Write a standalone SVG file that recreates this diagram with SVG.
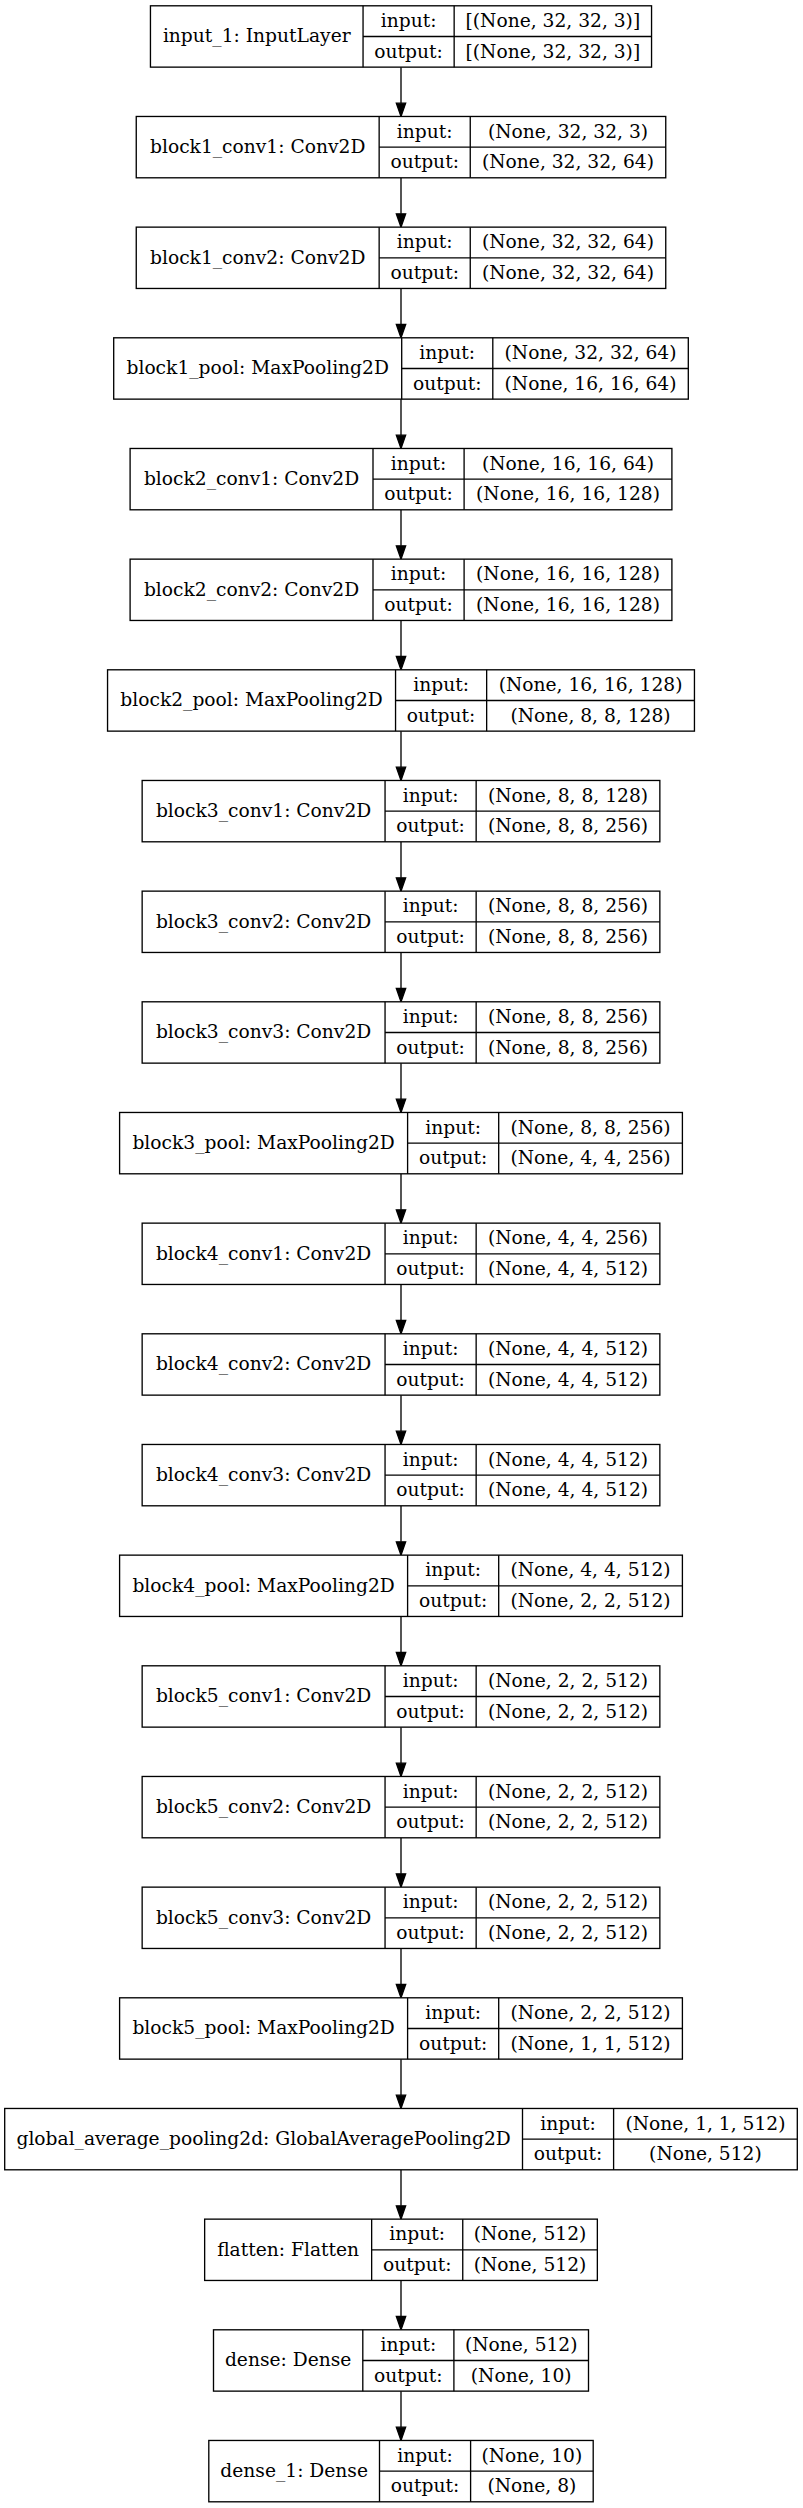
<svg xmlns="http://www.w3.org/2000/svg" width="803" height="2508" viewBox="0 0 803 2508">
<defs>
<style>
.node rect{fill:#ffffff;stroke:#000000;stroke-width:1.33}
.node line{stroke:#000000;stroke-width:1.33}
.node text{font-family:"DejaVu Serif","Liberation Serif",serif;font-size:18.67px;fill:#000000;text-anchor:middle}
.edge{fill:none;stroke:#000000;stroke-width:1.33}
</style>
<marker id="arrow" markerUnits="userSpaceOnUse" markerWidth="16" markerHeight="12" viewBox="-1 -6 16 12" refX="0" refY="0" orient="auto">
<path d="M0,-4.67 L13.33,0 L0,4.67 z" fill="#000000" stroke="#000000" stroke-width="1.33"/>
</marker>
</defs>
<rect x="0" y="0" width="803" height="2508" fill="#ffffff"/>
<g id="edges">
<path class="edge" marker-end="url(#arrow)" d="M401,67.13 V103.13"/>
<path class="edge" marker-end="url(#arrow)" d="M401,177.8 V213.8"/>
<path class="edge" marker-end="url(#arrow)" d="M401,288.47 V324.47"/>
<path class="edge" marker-end="url(#arrow)" d="M401,399.13 V435.13"/>
<path class="edge" marker-end="url(#arrow)" d="M401,509.8 V545.8"/>
<path class="edge" marker-end="url(#arrow)" d="M401,620.47 V656.47"/>
<path class="edge" marker-end="url(#arrow)" d="M401,731.13 V767.13"/>
<path class="edge" marker-end="url(#arrow)" d="M401,841.8 V877.8"/>
<path class="edge" marker-end="url(#arrow)" d="M401,952.47 V988.47"/>
<path class="edge" marker-end="url(#arrow)" d="M401,1063.13 V1099.13"/>
<path class="edge" marker-end="url(#arrow)" d="M401,1173.8 V1209.8"/>
<path class="edge" marker-end="url(#arrow)" d="M401,1284.47 V1320.47"/>
<path class="edge" marker-end="url(#arrow)" d="M401,1395.13 V1431.13"/>
<path class="edge" marker-end="url(#arrow)" d="M401,1505.8 V1541.8"/>
<path class="edge" marker-end="url(#arrow)" d="M401,1616.47 V1652.47"/>
<path class="edge" marker-end="url(#arrow)" d="M401,1727.13 V1763.13"/>
<path class="edge" marker-end="url(#arrow)" d="M401,1837.8 V1873.8"/>
<path class="edge" marker-end="url(#arrow)" d="M401,1948.47 V1984.47"/>
<path class="edge" marker-end="url(#arrow)" d="M401,2059.13 V2095.13"/>
<path class="edge" marker-end="url(#arrow)" d="M401,2169.8 V2205.8"/>
<path class="edge" marker-end="url(#arrow)" d="M401,2280.47 V2316.47"/>
<path class="edge" marker-end="url(#arrow)" d="M401,2391.13 V2427.13"/>
</g>

<g id="input_1" class="node" transform="translate(150.45,5.8)">
<rect x="0" y="0" width="501.1" height="61.33"/>
<line x1="212.6" y1="0" x2="212.6" y2="61.33"/><line x1="303.7" y1="0" x2="303.7" y2="61.33"/><line x1="212.6" y1="30.67" x2="501.1" y2="30.67"/>
<text x="106.3" y="36.67">input_1: InputLayer</text>
<text x="258.15" y="21.33">input:</text><text x="258.15" y="52">output:</text>
<text x="402.4" y="21.33">[(None, 32, 32, 3)]</text><text x="402.4" y="52">[(None, 32, 32, 3)]</text>
</g>

<g id="block1_conv1" class="node" transform="translate(136.25,116.47)">
<rect x="0" y="0" width="529.5" height="61.33"/>
<line x1="242.9" y1="0" x2="242.9" y2="61.33"/><line x1="334" y1="0" x2="334" y2="61.33"/><line x1="242.9" y1="30.67" x2="529.5" y2="30.67"/>
<text x="121.45" y="36.67">block1_conv1: Conv2D</text>
<text x="288.45" y="21.33">input:</text><text x="288.45" y="52">output:</text>
<text x="431.75" y="21.33">(None, 32, 32, 3)</text><text x="431.75" y="52">(None, 32, 32, 64)</text>
</g>

<g id="block1_conv2" class="node" transform="translate(136.25,227.13)">
<rect x="0" y="0" width="529.5" height="61.33"/>
<line x1="242.9" y1="0" x2="242.9" y2="61.33"/><line x1="334" y1="0" x2="334" y2="61.33"/><line x1="242.9" y1="30.67" x2="529.5" y2="30.67"/>
<text x="121.45" y="36.67">block1_conv2: Conv2D</text>
<text x="288.45" y="21.33">input:</text><text x="288.45" y="52">output:</text>
<text x="431.75" y="21.33">(None, 32, 32, 64)</text><text x="431.75" y="52">(None, 32, 32, 64)</text>
</g>

<g id="block1_pool" class="node" transform="translate(113.7,337.8)">
<rect x="0" y="0" width="574.6" height="61.33"/>
<line x1="288" y1="0" x2="288" y2="61.33"/><line x1="379.1" y1="0" x2="379.1" y2="61.33"/><line x1="288" y1="30.67" x2="574.6" y2="30.67"/>
<text x="144" y="36.67">block1_pool: MaxPooling2D</text>
<text x="333.55" y="21.33">input:</text><text x="333.55" y="52">output:</text>
<text x="476.85" y="21.33">(None, 32, 32, 64)</text><text x="476.85" y="52">(None, 16, 16, 64)</text>
</g>

<g id="block2_conv1" class="node" transform="translate(130.1,448.47)">
<rect x="0" y="0" width="541.8" height="61.33"/>
<line x1="242.9" y1="0" x2="242.9" y2="61.33"/><line x1="334" y1="0" x2="334" y2="61.33"/><line x1="242.9" y1="30.67" x2="541.8" y2="30.67"/>
<text x="121.45" y="36.67">block2_conv1: Conv2D</text>
<text x="288.45" y="21.33">input:</text><text x="288.45" y="52">output:</text>
<text x="437.9" y="21.33">(None, 16, 16, 64)</text><text x="437.9" y="52">(None, 16, 16, 128)</text>
</g>

<g id="block2_conv2" class="node" transform="translate(130.1,559.13)">
<rect x="0" y="0" width="541.8" height="61.33"/>
<line x1="242.9" y1="0" x2="242.9" y2="61.33"/><line x1="334" y1="0" x2="334" y2="61.33"/><line x1="242.9" y1="30.67" x2="541.8" y2="30.67"/>
<text x="121.45" y="36.67">block2_conv2: Conv2D</text>
<text x="288.45" y="21.33">input:</text><text x="288.45" y="52">output:</text>
<text x="437.9" y="21.33">(None, 16, 16, 128)</text><text x="437.9" y="52">(None, 16, 16, 128)</text>
</g>

<g id="block2_pool" class="node" transform="translate(107.55,669.8)">
<rect x="0" y="0" width="586.9" height="61.33"/>
<line x1="288" y1="0" x2="288" y2="61.33"/><line x1="379.1" y1="0" x2="379.1" y2="61.33"/><line x1="288" y1="30.67" x2="586.9" y2="30.67"/>
<text x="144" y="36.67">block2_pool: MaxPooling2D</text>
<text x="333.55" y="21.33">input:</text><text x="333.55" y="52">output:</text>
<text x="483" y="21.33">(None, 16, 16, 128)</text><text x="483" y="52">(None, 8, 8, 128)</text>
</g>

<g id="block3_conv1" class="node" transform="translate(142.15,780.47)">
<rect x="0" y="0" width="517.7" height="61.33"/>
<line x1="242.9" y1="0" x2="242.9" y2="61.33"/><line x1="334" y1="0" x2="334" y2="61.33"/><line x1="242.9" y1="30.67" x2="517.7" y2="30.67"/>
<text x="121.45" y="36.67">block3_conv1: Conv2D</text>
<text x="288.45" y="21.33">input:</text><text x="288.45" y="52">output:</text>
<text x="425.85" y="21.33">(None, 8, 8, 128)</text><text x="425.85" y="52">(None, 8, 8, 256)</text>
</g>

<g id="block3_conv2" class="node" transform="translate(142.15,891.13)">
<rect x="0" y="0" width="517.7" height="61.33"/>
<line x1="242.9" y1="0" x2="242.9" y2="61.33"/><line x1="334" y1="0" x2="334" y2="61.33"/><line x1="242.9" y1="30.67" x2="517.7" y2="30.67"/>
<text x="121.45" y="36.67">block3_conv2: Conv2D</text>
<text x="288.45" y="21.33">input:</text><text x="288.45" y="52">output:</text>
<text x="425.85" y="21.33">(None, 8, 8, 256)</text><text x="425.85" y="52">(None, 8, 8, 256)</text>
</g>

<g id="block3_conv3" class="node" transform="translate(142.15,1001.8)">
<rect x="0" y="0" width="517.7" height="61.33"/>
<line x1="242.9" y1="0" x2="242.9" y2="61.33"/><line x1="334" y1="0" x2="334" y2="61.33"/><line x1="242.9" y1="30.67" x2="517.7" y2="30.67"/>
<text x="121.45" y="36.67">block3_conv3: Conv2D</text>
<text x="288.45" y="21.33">input:</text><text x="288.45" y="52">output:</text>
<text x="425.85" y="21.33">(None, 8, 8, 256)</text><text x="425.85" y="52">(None, 8, 8, 256)</text>
</g>

<g id="block3_pool" class="node" transform="translate(119.6,1112.47)">
<rect x="0" y="0" width="562.8" height="61.33"/>
<line x1="288" y1="0" x2="288" y2="61.33"/><line x1="379.1" y1="0" x2="379.1" y2="61.33"/><line x1="288" y1="30.67" x2="562.8" y2="30.67"/>
<text x="144" y="36.67">block3_pool: MaxPooling2D</text>
<text x="333.55" y="21.33">input:</text><text x="333.55" y="52">output:</text>
<text x="470.95" y="21.33">(None, 8, 8, 256)</text><text x="470.95" y="52">(None, 4, 4, 256)</text>
</g>

<g id="block4_conv1" class="node" transform="translate(142.15,1223.13)">
<rect x="0" y="0" width="517.7" height="61.33"/>
<line x1="242.9" y1="0" x2="242.9" y2="61.33"/><line x1="334" y1="0" x2="334" y2="61.33"/><line x1="242.9" y1="30.67" x2="517.7" y2="30.67"/>
<text x="121.45" y="36.67">block4_conv1: Conv2D</text>
<text x="288.45" y="21.33">input:</text><text x="288.45" y="52">output:</text>
<text x="425.85" y="21.33">(None, 4, 4, 256)</text><text x="425.85" y="52">(None, 4, 4, 512)</text>
</g>

<g id="block4_conv2" class="node" transform="translate(142.15,1333.8)">
<rect x="0" y="0" width="517.7" height="61.33"/>
<line x1="242.9" y1="0" x2="242.9" y2="61.33"/><line x1="334" y1="0" x2="334" y2="61.33"/><line x1="242.9" y1="30.67" x2="517.7" y2="30.67"/>
<text x="121.45" y="36.67">block4_conv2: Conv2D</text>
<text x="288.45" y="21.33">input:</text><text x="288.45" y="52">output:</text>
<text x="425.85" y="21.33">(None, 4, 4, 512)</text><text x="425.85" y="52">(None, 4, 4, 512)</text>
</g>

<g id="block4_conv3" class="node" transform="translate(142.15,1444.47)">
<rect x="0" y="0" width="517.7" height="61.33"/>
<line x1="242.9" y1="0" x2="242.9" y2="61.33"/><line x1="334" y1="0" x2="334" y2="61.33"/><line x1="242.9" y1="30.67" x2="517.7" y2="30.67"/>
<text x="121.45" y="36.67">block4_conv3: Conv2D</text>
<text x="288.45" y="21.33">input:</text><text x="288.45" y="52">output:</text>
<text x="425.85" y="21.33">(None, 4, 4, 512)</text><text x="425.85" y="52">(None, 4, 4, 512)</text>
</g>

<g id="block4_pool" class="node" transform="translate(119.6,1555.13)">
<rect x="0" y="0" width="562.8" height="61.33"/>
<line x1="288" y1="0" x2="288" y2="61.33"/><line x1="379.1" y1="0" x2="379.1" y2="61.33"/><line x1="288" y1="30.67" x2="562.8" y2="30.67"/>
<text x="144" y="36.67">block4_pool: MaxPooling2D</text>
<text x="333.55" y="21.33">input:</text><text x="333.55" y="52">output:</text>
<text x="470.95" y="21.33">(None, 4, 4, 512)</text><text x="470.95" y="52">(None, 2, 2, 512)</text>
</g>

<g id="block5_conv1" class="node" transform="translate(142.15,1665.8)">
<rect x="0" y="0" width="517.7" height="61.33"/>
<line x1="242.9" y1="0" x2="242.9" y2="61.33"/><line x1="334" y1="0" x2="334" y2="61.33"/><line x1="242.9" y1="30.67" x2="517.7" y2="30.67"/>
<text x="121.45" y="36.67">block5_conv1: Conv2D</text>
<text x="288.45" y="21.33">input:</text><text x="288.45" y="52">output:</text>
<text x="425.85" y="21.33">(None, 2, 2, 512)</text><text x="425.85" y="52">(None, 2, 2, 512)</text>
</g>

<g id="block5_conv2" class="node" transform="translate(142.15,1776.47)">
<rect x="0" y="0" width="517.7" height="61.33"/>
<line x1="242.9" y1="0" x2="242.9" y2="61.33"/><line x1="334" y1="0" x2="334" y2="61.33"/><line x1="242.9" y1="30.67" x2="517.7" y2="30.67"/>
<text x="121.45" y="36.67">block5_conv2: Conv2D</text>
<text x="288.45" y="21.33">input:</text><text x="288.45" y="52">output:</text>
<text x="425.85" y="21.33">(None, 2, 2, 512)</text><text x="425.85" y="52">(None, 2, 2, 512)</text>
</g>

<g id="block5_conv3" class="node" transform="translate(142.15,1887.13)">
<rect x="0" y="0" width="517.7" height="61.33"/>
<line x1="242.9" y1="0" x2="242.9" y2="61.33"/><line x1="334" y1="0" x2="334" y2="61.33"/><line x1="242.9" y1="30.67" x2="517.7" y2="30.67"/>
<text x="121.45" y="36.67">block5_conv3: Conv2D</text>
<text x="288.45" y="21.33">input:</text><text x="288.45" y="52">output:</text>
<text x="425.85" y="21.33">(None, 2, 2, 512)</text><text x="425.85" y="52">(None, 2, 2, 512)</text>
</g>

<g id="block5_pool" class="node" transform="translate(119.6,1997.8)">
<rect x="0" y="0" width="562.8" height="61.33"/>
<line x1="288" y1="0" x2="288" y2="61.33"/><line x1="379.1" y1="0" x2="379.1" y2="61.33"/><line x1="288" y1="30.67" x2="562.8" y2="30.67"/>
<text x="144" y="36.67">block5_pool: MaxPooling2D</text>
<text x="333.55" y="21.33">input:</text><text x="333.55" y="52">output:</text>
<text x="470.95" y="21.33">(None, 2, 2, 512)</text><text x="470.95" y="52">(None, 1, 1, 512)</text>
</g>

<g id="global_average_pooling2d" class="node" transform="translate(4.7,2108.47)">
<rect x="0" y="0" width="792.6" height="61.33"/>
<line x1="517.8" y1="0" x2="517.8" y2="61.33"/><line x1="608.9" y1="0" x2="608.9" y2="61.33"/><line x1="517.8" y1="30.67" x2="792.6" y2="30.67"/>
<text x="258.9" y="36.67">global_average_pooling2d: GlobalAveragePooling2D</text>
<text x="563.35" y="21.33">input:</text><text x="563.35" y="52">output:</text>
<text x="700.75" y="21.33">(None, 1, 1, 512)</text><text x="700.75" y="52">(None, 512)</text>
</g>

<g id="flatten" class="node" transform="translate(204.65,2219.13)">
<rect x="0" y="0" width="392.7" height="61.33"/>
<line x1="167" y1="0" x2="167" y2="61.33"/><line x1="258.1" y1="0" x2="258.1" y2="61.33"/><line x1="167" y1="30.67" x2="392.7" y2="30.67"/>
<text x="83.5" y="36.67">flatten: Flatten</text>
<text x="212.55" y="21.33">input:</text><text x="212.55" y="52">output:</text>
<text x="325.4" y="21.33">(None, 512)</text><text x="325.4" y="52">(None, 512)</text>
</g>

<g id="dense" class="node" transform="translate(213.5,2329.8)">
<rect x="0" y="0" width="375" height="61.33"/>
<line x1="149.3" y1="0" x2="149.3" y2="61.33"/><line x1="240.4" y1="0" x2="240.4" y2="61.33"/><line x1="149.3" y1="30.67" x2="375" y2="30.67"/>
<text x="74.65" y="36.67">dense: Dense</text>
<text x="194.85" y="21.33">input:</text><text x="194.85" y="52">output:</text>
<text x="307.7" y="21.33">(None, 512)</text><text x="307.7" y="52">(None, 10)</text>
</g>

<g id="dense_1" class="node" transform="translate(208.8,2440.47)">
<rect x="0" y="0" width="384.4" height="61.33"/>
<line x1="170.7" y1="0" x2="170.7" y2="61.33"/><line x1="261.8" y1="0" x2="261.8" y2="61.33"/><line x1="170.7" y1="30.67" x2="384.4" y2="30.67"/>
<text x="85.35" y="36.67">dense_1: Dense</text>
<text x="216.25" y="21.33">input:</text><text x="216.25" y="52">output:</text>
<text x="323.1" y="21.33">(None, 10)</text><text x="323.1" y="52">(None, 8)</text>
</g>
</svg>
